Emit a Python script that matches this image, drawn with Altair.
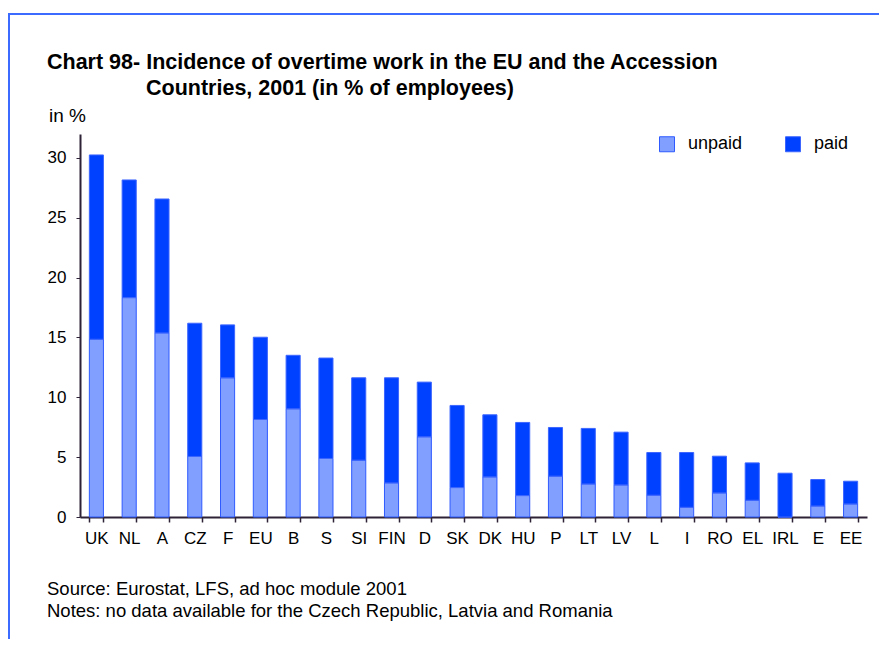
import altair as alt
import pandas as pd

countries = ["UK", "NL", "A", "CZ", "F", "EU", "B", "S", "SI", "FIN", "D", "SK",
             "DK", "HU", "P", "LT", "LV", "L", "I", "RO", "EL", "IRL", "E", "EE"]
unpaid = [14.85, 18.33, 15.38, 5.06, 11.63, 8.15, 9.04, 4.89, 4.75, 2.85, 6.70, 2.46,
          3.35, 1.79, 3.41, 2.76, 2.68, 1.82, 0.81, 2.01, 1.40, 0.0, 0.92, 1.09]
paid = [15.40, 9.83, 11.19, 11.13, 4.42, 6.87, 4.47, 8.39, 6.88, 8.78, 4.57, 6.86,
        5.19, 6.11, 4.07, 4.64, 4.41, 3.57, 4.58, 3.07, 3.12, 3.66, 2.21, 1.90]
series = ["unpaid", "paid"]
y_ticks = [0, 5, 10, 15, 20, 25, 30]

title_line1 = "Chart 98- Incidence of overtime work in the EU and the Accession"
title_line2 = "Countries, 2001 (in % of employees)"
unit_label = "in %"
source_text = "Source: Eurostat, LFS, ad hoc module 2001"
notes_text = "Notes: no data available for the Czech Republic, Latvia and Romania"

rows = []
for c, u, p in zip(countries, unpaid, paid):
    rows.append({"country": c, "series": "unpaid", "value": u, "ord": 0})
    rows.append({"country": c, "series": "paid", "value": p, "ord": 1})
df = pd.DataFrame(rows)

FONT = "Liberation Sans, Arial, sans-serif"
AXIS_COLOR = "#2e2236"

bars = alt.Chart(df).mark_bar(strokeWidth=1).encode(
    x=alt.X("country:N", sort=countries,
            scale=alt.Scale(paddingInner=0.57, paddingOuter=0.285),
            axis=alt.Axis(title=None, labelAngle=0, tickBand="extent",
                          labelFont=FONT, labelFontSize=17, labelColor="#000000",
                          labelPadding=8, tickSize=5, tickColor=AXIS_COLOR,
                          domainColor=AXIS_COLOR, domainWidth=2, tickWidth=1.5)),
    y=alt.Y("value:Q", stack="zero",
            scale=alt.Scale(domain=[0, 32], nice=False),
            axis=alt.Axis(title=None, values=y_ticks, grid=False,
                          labelFont=FONT, labelFontSize=17, labelColor="#000000",
                          labelPadding=10, tickSize=4, tickColor=AXIS_COLOR,
                          domainColor=AXIS_COLOR, domainWidth=2, tickWidth=1)),
    color=alt.Color("series:N",
                    scale=alt.Scale(domain=series, range=["#809fff", "#0040ff"]),
                    legend=alt.Legend(title=None, orient="none", legendX=578, legendY=1,
                                      direction="horizontal", symbolType="square",
                                      symbolSize=225, symbolStrokeWidth=1,
                                      labelFont=FONT, labelFontSize=18,
                                      labelOffset=12, columnPadding=40,
                                      gridAlign="all", padding=0)),
    stroke=alt.Stroke("series:N",
                      scale=alt.Scale(domain=series, range=["#2f5aff", "#3d66ff"]),
                      legend=None),
    order=alt.Order("ord:Q"),
)

one = pd.DataFrame({"k": [0]})
frame_color = "#3b6cff"
frame_top = alt.Chart(one).mark_rule(color=frame_color, strokeWidth=2).encode(
    x=alt.value(-71), x2=alt.value(900), y=alt.value(-120))
frame_left = alt.Chart(one).mark_rule(color=frame_color, strokeWidth=2).encode(
    x=alt.value(-71), y=alt.value(-121), y2=alt.value(700))


def label(txt, x, y, size, bold=False):
    return alt.Chart(one).mark_text(
        text=txt, align="left", baseline="alphabetic", font=FONT,
        fontSize=size, fontWeight="bold" if bold else "normal", color="#000000"
    ).encode(x=alt.value(x), y=alt.value(y))


chart = alt.layer(
    frame_top, frame_left, bars,
    label(title_line1, -33, -65, 21.5, True),
    label(title_line2, 66, -39, 21.5, True),
    label(unit_label, -31, -12, 19),
    label(source_text, -33, 461, 18.5),
    label(notes_text, -33, 483, 18.5),
).properties(
    width=787, height=383,
    autosize=alt.AutoSizeParams(type="none"),
    padding={"left": 72, "top": 126, "right": 12, "bottom": 122},
).configure_view(stroke=None)

chart.save("out.html", embed_options={"renderer": "svg", "actions": False})
